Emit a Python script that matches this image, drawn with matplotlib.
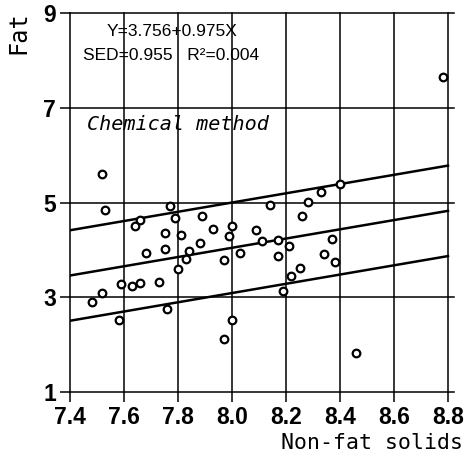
import matplotlib
matplotlib.use("Agg")
import numpy as np
import matplotlib.pyplot as plt

# non-fat solids (x) and fat (y)
snf = [8.78, 7.52, 7.53, 7.77, 7.66, 7.64, 7.79, 7.89, 7.93, 7.75,
       7.81, 7.88, 7.75, 7.68, 7.84, 7.83, 7.80, 7.59, 7.63, 7.66,
       7.73, 7.52, 7.48, 7.76, 7.58, 8.40, 8.33, 8.14, 8.28, 8.26,
       8.00, 7.99, 8.09, 8.11, 8.17, 8.21, 8.37, 7.97, 8.03, 8.17,
       8.34, 8.38, 8.25, 8.22, 8.19, 8.00, 7.97, 8.46]
fat = [7.65, 5.60, 4.84, 4.93, 4.63, 4.51, 4.68, 4.72, 4.44, 4.36,
       4.32, 4.14, 4.02, 3.93, 3.98, 3.80, 3.59, 3.28, 3.24, 3.30,
       3.33, 3.10, 2.89, 2.76, 2.52, 5.39, 5.22, 4.95, 5.01, 4.72,
       4.51, 4.30, 4.41, 4.18, 4.21, 4.08, 4.23, 3.79, 3.94, 3.87,
       3.92, 3.75, 3.61, 3.44, 3.14, 2.51, 2.12, 1.83]

# fitted line and band
intercept = -3.756
slope = 0.975
sed = 0.955
line_x = np.array([7.4, 8.8])

xticks = [7.4, 7.6, 7.8, 8.0, 8.2, 8.4, 8.6, 8.8]
yticks = [1, 3, 5, 7, 9]

fig = plt.figure(figsize=(4.67, 4.57), dpi=100)
ax = fig.add_axes([70/467, 1 - 392/457, 384/467, 379/457])

ax.set_xlim(7.4, 7.4 + 384/270)
ax.set_ylim(1, 9)
ax.set_xticks(xticks)
ax.set_yticks(yticks)
ax.set_xticklabels(["%.1f" % v for v in xticks])
ax.set_yticklabels([str(v) for v in yticks])
for s in ax.spines.values():
    s.set_visible(False)

ax.grid(True, color="black", lw=1.1)
for gl in ax.get_xgridlines() + ax.get_ygridlines():
    gl.set_clip_on(False)
ax.tick_params(direction="out", length=7, width=1.1, color="black", pad=3)
for lab in ax.get_xticklabels() + ax.get_yticklabels():
    lab.set_family("Liberation Sans")
    lab.set_fontweight("bold")
    lab.set_fontsize(16.5)

yfit = intercept + slope * line_x
for off in (-sed, 0, sed):
    ax.plot(line_x, yfit + off, color="black", lw=1.8, zorder=3)

ax.scatter(snf, fat, s=30, facecolors="white", edgecolors="black",
           linewidths=1.6, zorder=4, clip_on=False)

narrow = ["Liberation Sans Narrow", "Liberation Sans", "DejaVu Sans"]
fig.text(107/467, 1 - 31/457, "Y=3.756+0.975X", family=narrow,
         fontsize=12.5, va="center", ha="left")
fig.text(83/467, 1 - 56/457, "SED=0.955   R\u00b2=0.004", family=narrow,
         fontsize=12.5, va="center", ha="left")
fig.text(87/467, 1 - 124/457, "Chemical method", family="DejaVu Sans Mono",
         style="italic", fontsize=14.5, va="center", ha="left")

fig.text(463/467, 1 - 443/457, "Non-fat solids", family="DejaVu Sans Mono",
         fontsize=15.5, va="center", ha="right")
fig.text(18/467, 1 - 33/457, "Fat", family="DejaVu Sans Mono",
         fontsize=17, rotation=90, va="center", ha="center")

fig.savefig("out.png", dpi=100)
